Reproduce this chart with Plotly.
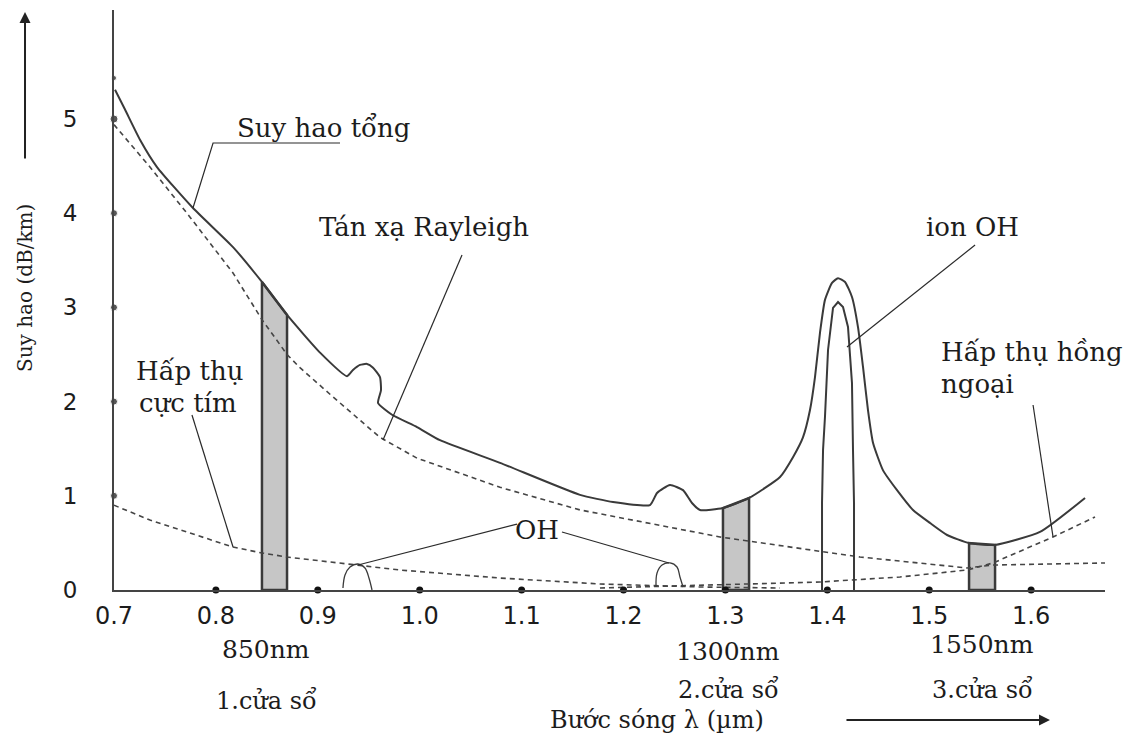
import plotly.graph_objects as go

# ---------------- data (wavelength in µm, loss in dB/km) ----------------
total_wl = [0.701, 0.7108, 0.7255, 0.7422, 0.7775, 0.8168, 0.8452, 0.8698, 0.9022, 0.9287,
            0.9345, 0.9414, 0.9483, 0.9542, 0.9610, 0.9620, 0.9591, 0.9728, 0.9973, 1.0199,
            1.0788, 1.1573, 1.1897, 1.2260, 1.2329, 1.2456, 1.2584, 1.2672, 1.2751, 1.2976,
            1.3232, 1.3536, 1.3663, 1.3761, 1.3830, 1.3879, 1.3928, 1.3977, 1.4046, 1.4105,
            1.4174, 1.4242, 1.4301, 1.4350, 1.4399, 1.4449, 1.4547, 1.4684, 1.4841, 1.5008,
            1.5175, 1.5391, 1.5646, 1.6087, 1.6529]
total_loss = [5.31, 5.10, 4.78, 4.49, 4.055, 3.64, 3.27, 2.92, 2.52, 2.27,
              2.335, 2.39, 2.40, 2.36, 2.26, 2.12, 1.985, 1.86, 1.73, 1.59,
              1.35, 1.01, 0.934, 0.902, 1.03, 1.115, 1.06, 0.924, 0.849, 0.870,
              0.977, 1.20, 1.41, 1.62, 1.91, 2.26, 2.73, 3.08, 3.26, 3.31,
              3.27, 3.11, 2.79, 2.37, 1.91, 1.56, 1.27, 1.06, 0.849, 0.711,
              0.584, 0.499, 0.478, 0.616, 0.977]

rayleigh_wl = [0.700, 0.7353, 0.7716, 0.8168, 0.8452, 0.8698, 0.8825, 0.9149, 0.9610, 0.9973,
               1.0788, 1.1573, 1.2947, 1.4321, 1.5371, 1.5626, 1.6725]
rayleigh_loss = [4.94, 4.49, 4.00, 3.365, 2.87, 2.50, 2.36, 2.05, 1.62, 1.40,
                 1.09, 0.85, 0.563, 0.350, 0.234, 0.265, 0.287]

uv_wl = [0.700, 0.7353, 0.8168, 0.8452, 0.8698, 0.9414, 0.9807, 1.0788, 1.1769, 1.2751, 1.3536]
uv_loss = [0.90, 0.743, 0.456, 0.393, 0.350, 0.265, 0.212, 0.127, 0.064, 0.032, 0.021]

ir_wl = [1.1769, 1.3114, 1.3928, 1.4713, 1.5371, 1.5626, 1.6215, 1.6627]
ir_loss = [0.021, 0.064, 0.085, 0.138, 0.212, 0.287, 0.563, 0.775]

oh_peak_wl = [1.3948, 1.3948, 1.3958, 1.3977, 1.4007, 1.4056, 1.4105, 1.4154, 1.4203,
              1.4242, 1.4252, 1.4262, 1.4262]
oh_peak_loss = [0.0, 0.924, 1.486, 1.837, 2.548, 2.994, 3.057, 3.004, 2.792,
                2.197, 1.486, 0.924, 0.0]

oh_small1_wl = [0.9247, 0.9267, 0.9316, 0.9394, 0.9463, 0.9502, 0.9532]
oh_small1_loss = [0.021, 0.159, 0.244, 0.276, 0.234, 0.127, 0.0]
oh_small2_wl = [1.2319, 1.2329, 1.2378, 1.2456, 1.2525, 1.2554, 1.2584]
oh_small2_loss = [0.032, 0.18, 0.265, 0.287, 0.244, 0.138, 0.032]

window_start = [0.8452, 1.2976, 1.5391]
window_end = [0.8698, 1.3232, 1.5646]
window_top_start = [3.27, 0.870, 0.499]
window_top_end = [2.92, 0.977, 0.478]
window_nm = ["850nm", "1300nm", "1550nm"]
window_name = ["1.cửa sổ", "2.cửa sổ", "3.cửa sổ"]

x_ticks = [0.7, 0.8, 0.9, 1.0, 1.1, 1.2, 1.3, 1.4, 1.5, 1.6]
x_tick_text = ["0.7", "0.8", "0.9", "1.0", "1.1", "1.2", "1.3", "1.4", "1.5", "1.6"]
y_ticks = [0, 1, 2, 3, 4, 5]
y_tick_text = ["0", "1", "2", "3", "4", "5"]

# ---------------- styling ----------------
SERIF = "DejaVu Serif"
SANS = "DejaVu Sans"
INK = "#1c1c1c"
LINE = "#3a3a3a"
FS = 26

fig = go.Figure()

# optical windows (gray bands)
for x0, x1, t0, t1 in zip(window_start, window_end, window_top_start, window_top_end):
    fig.add_trace(go.Scatter(x=[x0, x0, x1, x1, x0], y=[0, t0, t1, 0, 0], mode="lines",
                             fill="toself", fillcolor="#c6c6c6",
                             line=dict(color=LINE, width=2.5), hoverinfo="skip"))

dash = dict(color="#454545", width=1.6, dash="5px,4px")
fig.add_trace(go.Scatter(x=rayleigh_wl, y=rayleigh_loss, mode="lines", line=dash, name="Rayleigh"))
fig.add_trace(go.Scatter(x=uv_wl, y=uv_loss, mode="lines", line=dash, name="UV"))
fig.add_trace(go.Scatter(x=ir_wl, y=ir_loss, mode="lines", line=dash, name="IR"))

fig.add_trace(go.Scatter(x=total_wl, y=total_loss, mode="lines",
                         line=dict(color=LINE, width=2, shape="spline", smoothing=0.5), name="total"))
fig.add_trace(go.Scatter(x=oh_peak_wl, y=oh_peak_loss, mode="lines",
                         line=dict(color=LINE, width=2), name="OH"))
for xs, ys in [(oh_small1_wl, oh_small1_loss), (oh_small2_wl, oh_small2_loss)]:
    fig.add_trace(go.Scatter(x=xs, y=ys, mode="lines",
                             line=dict(color=LINE, width=1.3, shape="spline"), name="OH small"))

# tick dots on the axes
fig.add_trace(go.Scatter(x=x_ticks[1:], y=[0] * (len(x_ticks) - 1), mode="markers",
                         marker=dict(color="#111", size=7), cliponaxis=False))
fig.add_trace(go.Scatter(x=[0.7] * 6, y=[1, 2, 3, 4, 5, 5.435], mode="markers",
                         marker=dict(color="#111", size=[7, 7, 7, 7, 8, 5]), cliponaxis=False))

# leader lines (annotation pointers)
leaders = [
    [(0.7775, 4.055), (0.7972, 4.745), (0.9218, 4.745)],
    [(1.0415, 3.556), (0.964, 1.592)],
    [(1.545, 3.662), (1.4193, 2.58)],
    [(1.6019, 1.964), (1.6215, 0.563)],
    [(0.7765, 1.858), (0.8168, 0.456)],
    [(1.0955, 0.70), (0.9394, 0.265)],
    [(1.1396, 0.616), (1.2446, 0.287)],
]
for pts in leaders:
    path = "M " + " L ".join(f"{a},{b}" for a, b in pts)
    fig.add_shape(type="path", path=path, xref="x", yref="y",
                  line=dict(color="#2a2a2a", width=1.2))

def txt(x, y, s, xanchor="left", xref="x", yref="y", size=FS, **kw):
    fig.add_annotation(x=x, y=y, text=s, showarrow=False, xref=xref, yref=yref,
                       xanchor=xanchor, yanchor="middle", borderpad=0,
                       font=dict(family=SERIF, size=size, color=INK), **kw)

txt(0.8197, 4.90, "Suy hao tổng")
txt(0.9002, 3.85, "Tán xạ Rayleigh")
txt(1.4959, 3.85, "ion OH")
txt(1.5106, 2.53, "Hấp thụ hồng")
txt(1.5106, 2.19, "ngoại")
txt(0.7206, 2.32, "Hấp thụ")
txt(0.7236, 1.99, "cực tím")
txt(1.115, 0.64, "OH", xanchor="center")

# window labels below the axis
nm_y = [-0.1034, -0.1052, -0.0948]
nm_x = [0.8492, 1.3026, 1.5518]
name_y = [-0.1897, -0.1707, -0.1707]
for x, y1, y2, a, b in zip(nm_x, nm_y, name_y, window_nm, window_name):
    txt(x, y1, a, xanchor="center", yref="paper", size=25)
    txt(x, y2, b, xanchor="center", yref="paper", size=24)

txt(1.2329, -0.2241, "Bước sóng λ (µm)", xanchor="center", yref="paper", size=24)
# axis title (rotated)
txt(-0.0898, 0.5207, "Suy hao (dB/km)", xanchor="center", xref="paper", yref="paper",
    size=20, textangle=-90)

# arrows
fig.add_annotation(x=1.6185, y=-0.2241, xref="x", yref="paper", text="", showarrow=True,
                   ax=-205, ay=0, arrowhead=2, arrowsize=1.1, arrowwidth=2, arrowcolor="#222")
fig.add_annotation(x=-0.0898, y=0.9966, xref="paper", yref="paper", text="", showarrow=True,
                   ax=0, ay=148, arrowhead=2, arrowsize=1.1, arrowwidth=2, arrowcolor="#222")

fig.update_layout(
    width=1146, height=734,
    margin=dict(l=114, r=41, t=10, b=144),
    paper_bgcolor="white", plot_bgcolor="white",
    showlegend=False,
    xaxis=dict(range=[0.7, 1.6725], tickvals=x_ticks, ticktext=x_tick_text, ticks="",
               showgrid=False, zeroline=False, showline=True, linecolor="#444", linewidth=2,
               tickfont=dict(family=SANS, size=24, color=INK), ticklabelstandoff=3,
               fixedrange=True),
    yaxis=dict(range=[0, 6.157], tickvals=y_ticks, ticktext=y_tick_text, ticks="",
               showgrid=False, zeroline=False, showline=True, linecolor="#444", linewidth=2,
               tickfont=dict(family=SANS, size=23, color=INK), ticklabelstandoff=30,
               fixedrange=True),
)

fig.write_html("out.html", config={"displayModeBar": False},
               post_script="document.body.style.margin='0';")
